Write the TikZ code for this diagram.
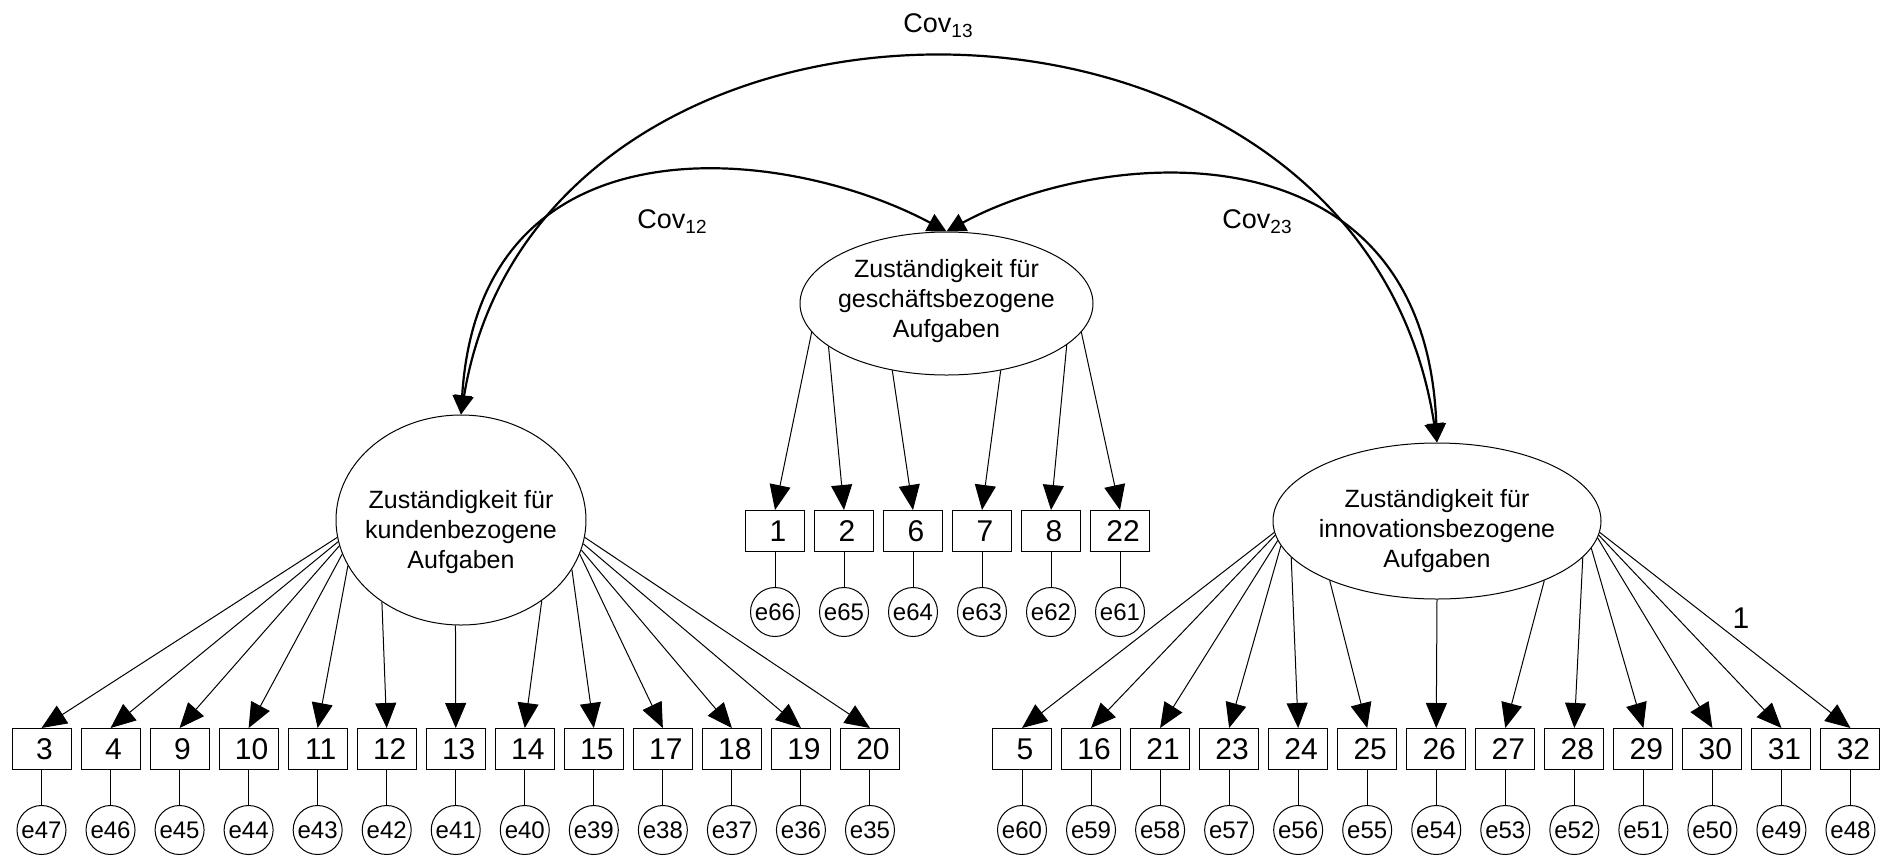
\documentclass[tikz,border=0pt]{standalone}
\usepackage{fontspec}
\setmainfont{Liberation Sans}
\usetikzlibrary{arrows.meta,shapes.geometric}
\tikzset{
  lv/.style={draw,ellipse,inner sep=0pt,line width=0.5pt},
  lvtext/.style={align=center,inner sep=0pt,font=\fontsize{12.5}{15}\selectfont},
  ind/.style={draw,minimum width=29.5pt,minimum height=20.5pt,inner sep=0pt,
              line width=0.5pt,font=\fontsize{15}{18}\selectfont},
  err/.style={draw,circle,minimum size=24.5pt,inner sep=0pt,line width=0.5pt,
              font=\fontsize{12}{14}\selectfont},
  ld/.style={-{Triangle[length=12.5pt,width=10.5pt]},line width=0.5pt},
  cov/.style={{Triangle[length=9.5pt,width=9.5pt]}-{Triangle[length=9.5pt,width=9.5pt]},
              line width=1.1pt},
  lbl/.style={inner sep=0pt,font=\fontsize{13.5}{16}\selectfont},
}
\newcommand{\covsub}[1]{Cov\raisebox{-0.35ex}{\fontsize{9.5}{11}\selectfont #1}}

\begin{document}
\begin{tikzpicture}[x=0.5pt,y=-0.5pt]
\useasboundingbox (0,0) rectangle (1881,858);

% latent variables
\node[lv,minimum width=125pt,minimum height=105pt,
  label={[lvtext,yshift=-6pt]center:{Zuständigkeit für\\kundenbezogene\\Aufgaben}}]
  (kb) at (461,520) {};
\node[lv,minimum width=146.5pt,minimum height=71.5pt,
  label={[lvtext,yshift=1pt]center:{Zuständigkeit für\\geschäftsbezogene\\Aufgaben}}]
  (gs) at (946.5,303.5) {};
\node[lv,minimum width=164pt,minimum height=78pt,
  label={[lvtext,yshift=-5pt]center:{Zuständigkeit für\\innovationsbezogene\\Aufgaben}}]
  (ib) at (1437,521) {};

% indicators and errors
\foreach \n/\e/\a [count=\i from 0] in {3/47/188,4/46/190,9/45/192,10/44/196,
    11/43/202,12/42/226,13/41/267,14/40/315,15/39/336,17/38/344,18/37/346,
    19/36/349,20/35/352}{
  \node[ind] (b\n) at ({41.5+69.04*\i},749) {\hspace*{3pt}\n};
  \node[err] (e\e) at ({41.5+69.04*\i},830) {e\e};
  \draw[ld] (kb.\a) -- (b\n.north);
  \draw[line width=0.5pt] (b\n.south) -- (e\e.north);
}
\foreach \n/\e/\a [count=\i from 0] in {1/66/192,2/65/200,6/64/231,7/63/309,
    8/62/341,22/61/348}{
  \node[ind] (b\n) at ({775+69*\i},531) {\hspace*{3pt}\n};
  \node[err] (e\e) at ({775+69*\i},612) {e\e};
  \draw[ld] (gs.\a) -- (b\n.north);
  \draw[line width=0.5pt] (b\n.south) -- (e\e.north);
}
\foreach \n/\e/\a [count=\i from 0] in {5/60/184,16/59/185,21/58/187,23/57/189,
    24/56/194,25/55/209,26/54/270,27/53/331,28/52/346,29/51/350,30/50/354,
    31/49/355,32/48/356}{
  \node[ind] (b\n) at ({1022+69.04*\i},749) {\hspace*{3pt}\n};
  \node[err] (e\e) at ({1022+69.04*\i},830) {e\e};
  \draw[ld] (ib.\a) -- (b\n.north);
  \draw[line width=0.5pt] (b\n.south) -- (e\e.north);
}

% covariances
\draw[cov] (kb.north) .. controls (540,-66) and (1360,-62) .. (ib.north);
\draw[cov] (kb.north) .. controls (480,110) and (787,146) .. (gs.north);
\draw[cov] (gs.north) .. controls (1104,146) and (1425,120) .. (ib.north);

\node[lbl] (c13) at (938,26) {\covsub{13}};
\node[lbl] (c12) at (672,222) {\covsub{12}};
\node[lbl] (c23) at (1257,222) {\covsub{23}};
\node[inner sep=0pt,font=\fontsize{15}{18}\selectfont] (fix) at (1741,618) {1};

\end{tikzpicture}
\end{document}
